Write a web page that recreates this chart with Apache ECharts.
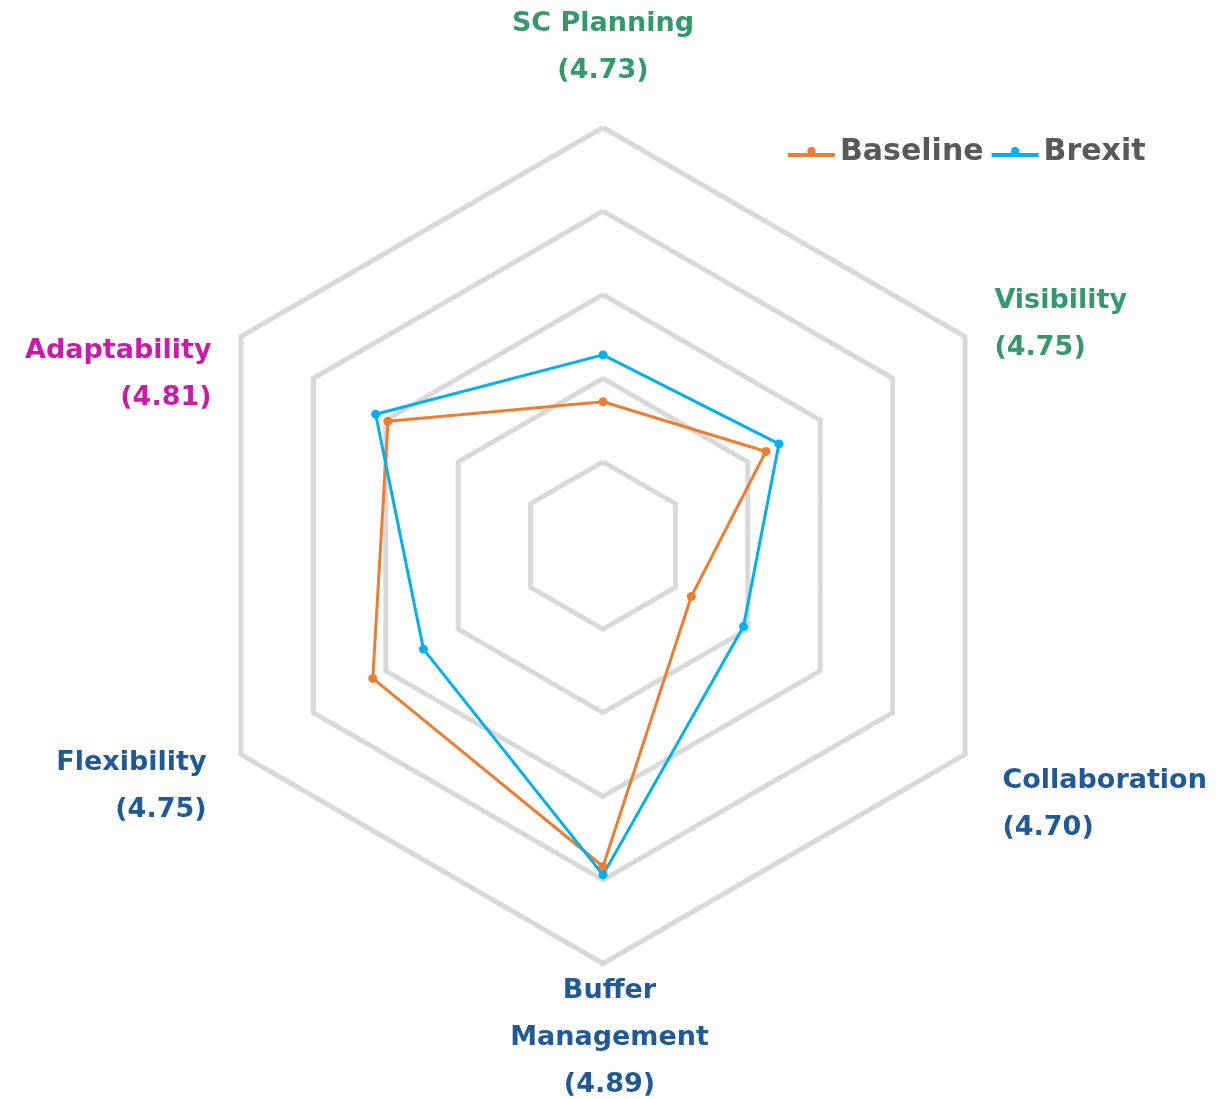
<!DOCTYPE html>
<html>
<head>
<meta charset="utf-8">
<script src="https://cdn.jsdelivr.net/npm/echarts@6/dist/echarts.min.js"></script>
<style>
  html, body { margin: 0; padding: 0; background: #fff; }
  #chart { width: 1231px; height: 1099px; }
</style>
</head>
<body>
<div id="chart"></div>
<script>
// categories in clockwise order starting at the top
const categories = ['SC Planning', 'Visibility', 'Collaboration', 'Buffer\nManagement', 'Flexibility', 'Adaptability']
const overallScores = ['4.73', '4.75', '4.70', '4.89', '4.75', '4.81']
const baseline = [1.72, 2.25, 1.22, 3.84, 3.18, 2.97]
const brexit = [2.28, 2.43, 1.94, 3.94, 2.48, 3.14]
const axisMax = 5

// label colours per category
const labelColors = ['#33996a', '#33996a', '#1f5a96', '#1f5a96', '#1f5a96', '#cc1aa8']
// small nudges so the names sit where the original put them
const labelPadding = [
  [2, 0, 0, 0],
  [10, 0, 0, 0],
  [66, 0, 0, 8],
  [0, 0, 60, 13],
  [30, 5, 0, 0],
  [110, 0, 0, 0],
]

// echarts lays indicators out counter-clockwise, so walk the arrays in that order
const order = [0, 5, 4, 3, 2, 1]
const pick = (arr) => order.map((i) => arr[i])

const rich = {}
categories.forEach((c, i) => {
  rich['n' + i] = {
    fontFamily: 'DejaVu Sans',
    fontWeight: 'bold',
    fontSize: 27,
    lineHeight: 47,
    color: labelColors[i],
    padding: labelPadding[i],
  }
})

const legendIcon = 'path://M0,6h47v4h-47z M19.5,7v-3a4,4 0 0,1 8,0v3z'

const chart = echarts.init(document.getElementById('chart'))
chart.setOption({
  backgroundColor: '#fff',
  animation: false,
  legend: {
    left: 783,
    top: 132,
    itemWidth: 47,
    itemHeight: 10,
    itemGap: 8,
    textStyle: { fontFamily: 'DejaVu Sans', fontWeight: 'bold', fontSize: 30, color: '#595959' },
    data: [
      { name: 'Baseline', icon: legendIcon },
      { name: 'Brexit', icon: legendIcon },
    ],
  },
  radar: {
    center: [603, 545.5],
    radius: 418,
    startAngle: 90,
    shape: 'polygon',
    splitNumber: 5,
    nameGap: 34,
    indicator: pick(categories.map((c, i) => ({ name: c, min: 0, max: axisMax, idx: i }))),
    axisName: {
      formatter: (name, ind) => {
        const key = 'n' + ind.idx
        const lines = name.split('\n').concat('(' + overallScores[ind.idx] + ')')
        return lines.map((l) => '{' + key + '|' + l + '}').join('\n')
      },
      rich: rich,
    },
    axisLine: { show: false },
    axisTick: { show: false },
    axisLabel: { show: false },
    splitArea: { show: false },
    splitLine: { lineStyle: { color: '#d9d9d9', width: 5 } },
  },
  series: [
    {
      type: 'radar',
      symbol: 'circle',
      symbolSize: 9,
      data: [
        {
          name: 'Baseline',
          value: pick(baseline),
          itemStyle: { color: '#ed7d31' },
          lineStyle: { color: '#ed7d31', width: 3 },
        },
        {
          name: 'Brexit',
          value: pick(brexit),
          itemStyle: { color: '#00b0f0' },
          lineStyle: { color: '#00b0f0', width: 3 },
        },
      ],
    },
  ],
})
</script>
</body>
</html>
